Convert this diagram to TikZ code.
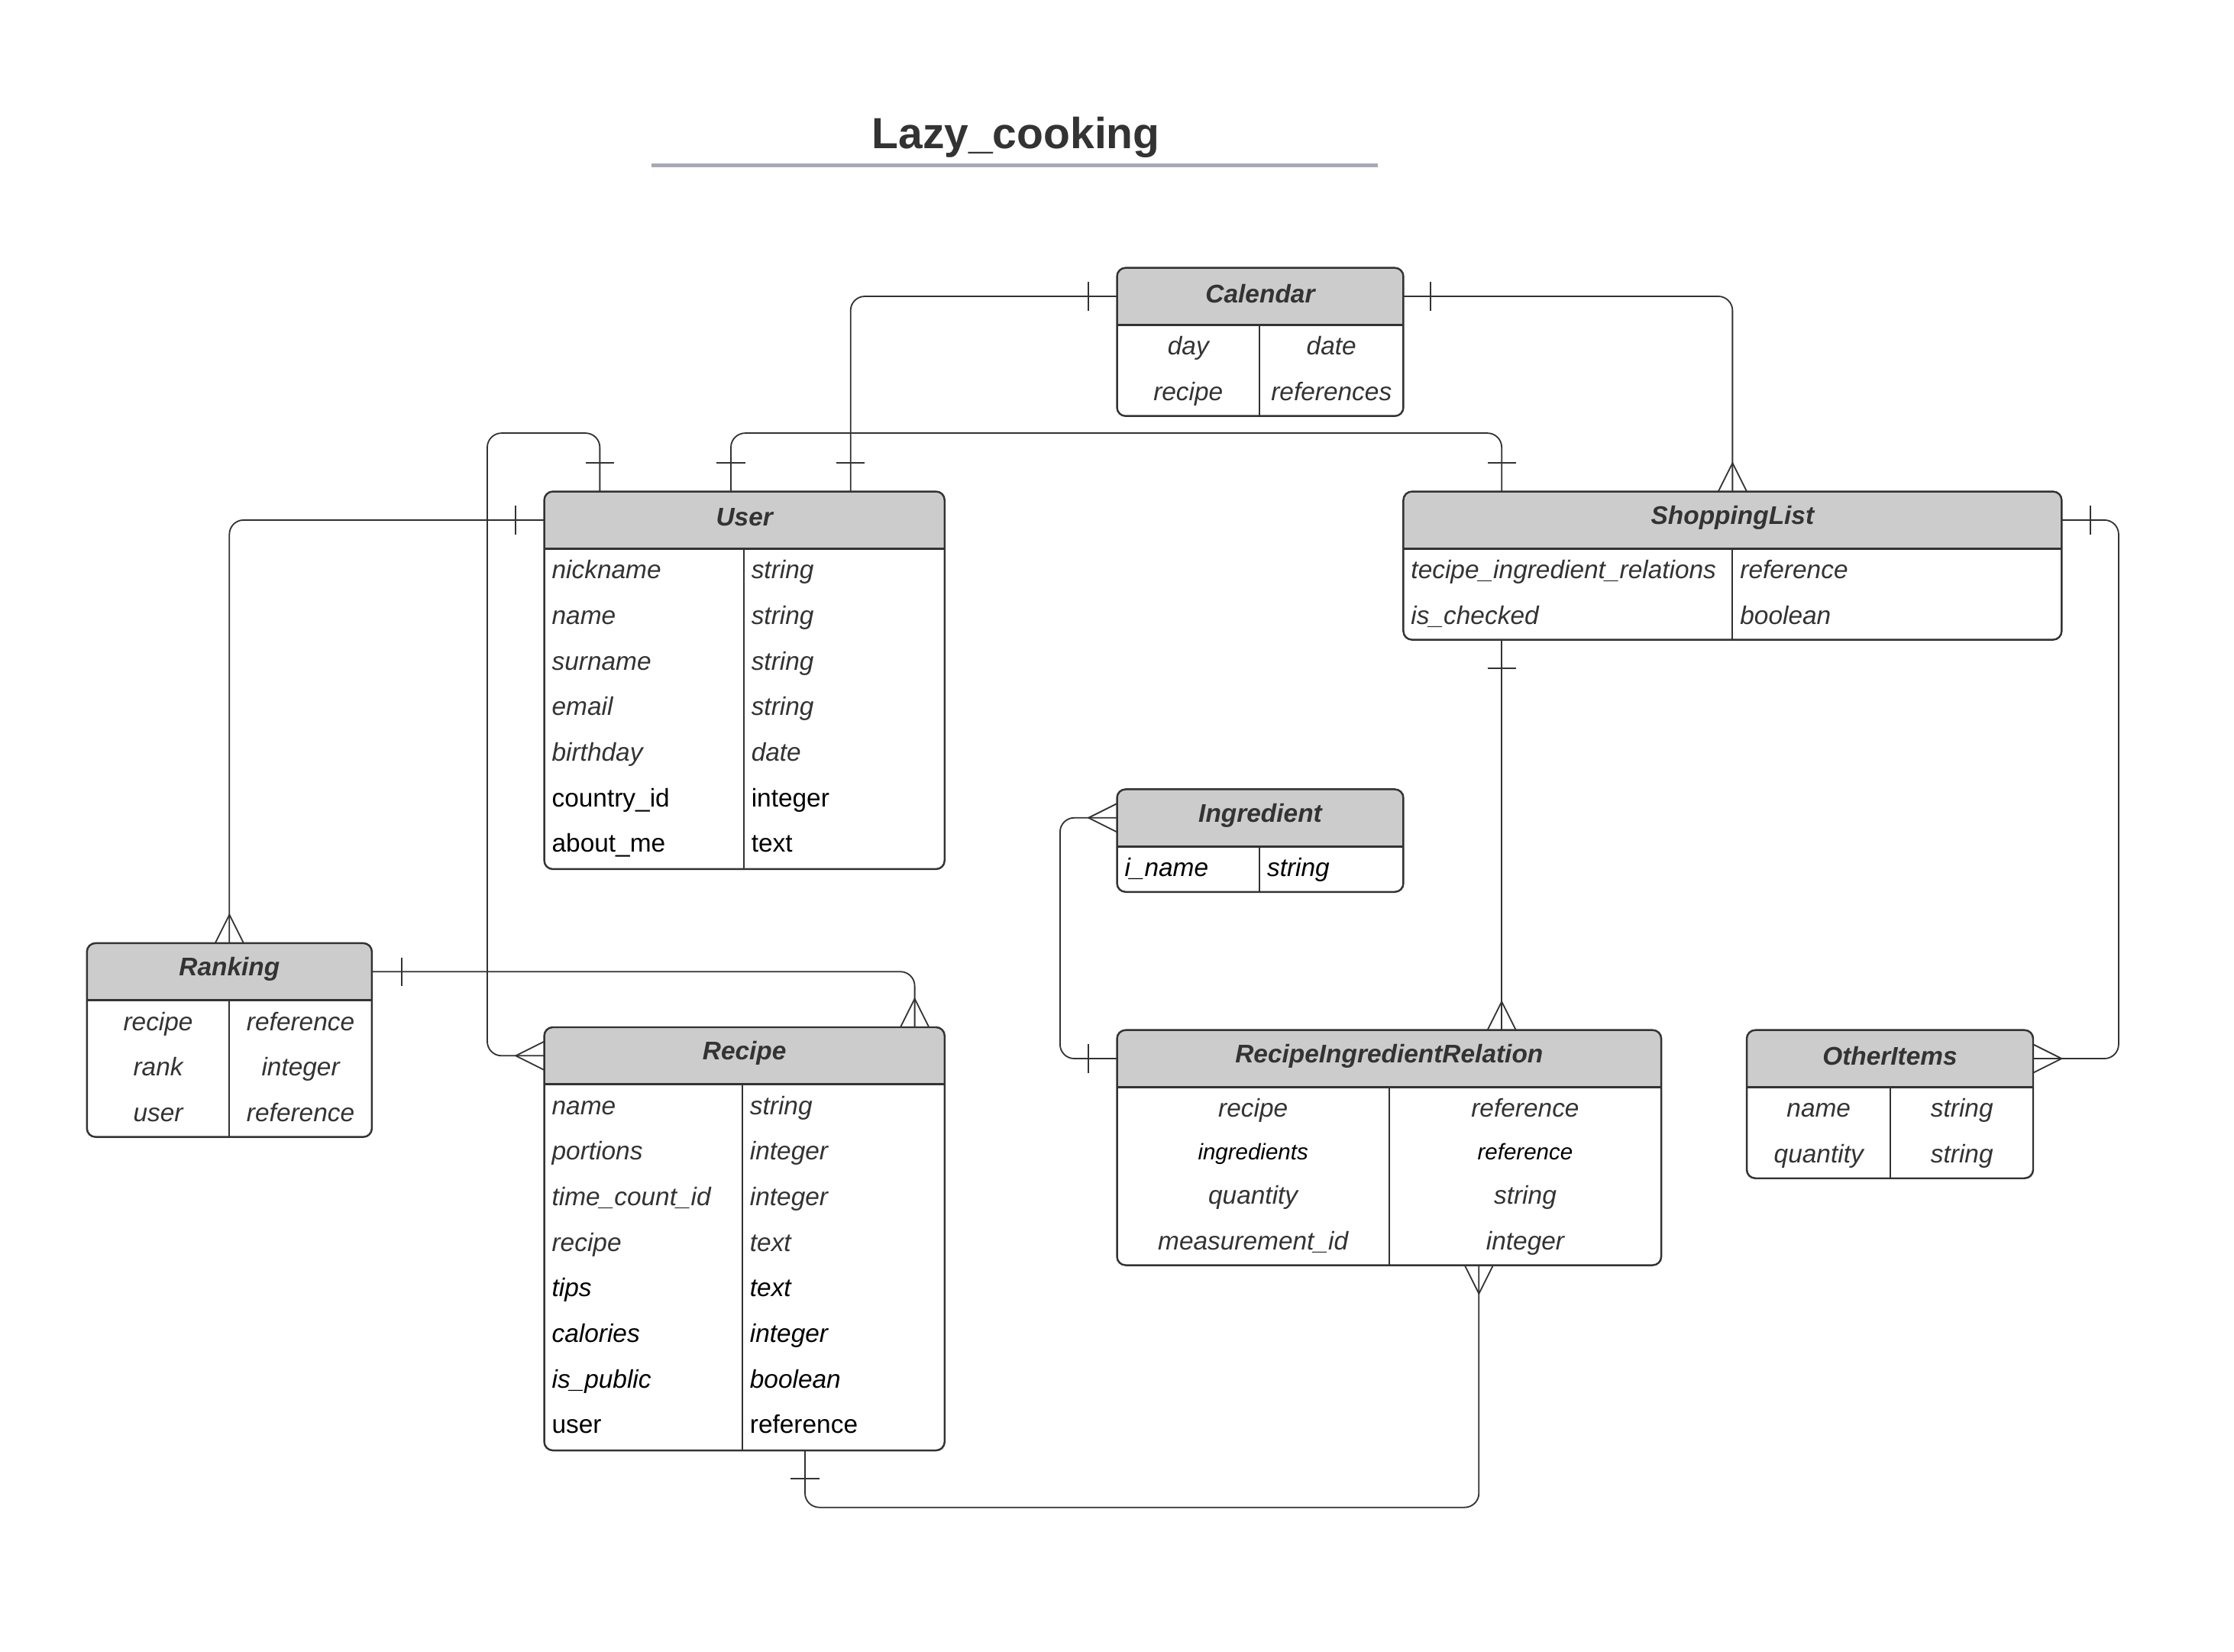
\documentclass[tikz,border=0pt]{standalone}
\usepackage{fontspec}
\setmainfont{Liberation Sans}
\usetikzlibrary{calc,fit}
\definecolor{ink}{HTML}{333333}
\definecolor{hfill}{HTML}{CCCCCC}
\definecolor{ulc}{HTML}{A6AAB6}
\newcommand\fsz{\fontsize{10.2pt}{12pt}\selectfont}
\newcommand\fsm{\fontsize{9pt}{11pt}\selectfont}
\newcommand\erentity[8]{%
  \begin{scope}
    \clip (#2,#3) rectangle (#4,#6);
    \fill[hfill, rounded corners=0.12cm] (#2,#3) rectangle (#4,#5);
  \end{scope}
  \node[ebox, fit={(#2,#3) (#4,#5)}] (#1) {};
  \node[fit={(#2,#3) (#4,#6)}, inner sep=0pt, outer sep=0pt] (#1h) {};
  \node[htitle] (#1t) at (#1h.center) {#8};
  \draw[hline] (#2,#6) -- (#4,#6);
  \draw[vline] (#7,#6) -- (#7,#5);
}
\newcommand\vbarx[3]{\draw[conn] ($(#1)+(#2,#3)+(0,-10)$) -- ($(#1)+(#2,#3)+(0,10)$);}
\newcommand\hbarx[3]{\draw[conn] ($(#1)+(#2,#3)+(-10,0)$) -- ($(#1)+(#2,#3)+(10,0)$);}
\newcommand\crowx[5]{\draw[conn, sharp corners] ($(#1)+(#4,#5)$) -- ($(#1)+(#2,#3)$) -- ($(#1)-(#4,#5)$);}
\begin{document}
\begin{tikzpicture}[x=0.02cm,y=-0.02cm,
  ebox/.style={draw=ink, line width=0.75pt, rounded corners=0.12cm, inner sep=0pt, outer sep=0pt},
  hline/.style={draw=ink, line width=0.9pt},
  vline/.style={draw=ink, line width=0.6pt},
  htitle/.style={font=\fsz\bfseries\itshape, text=ink, inner sep=0pt, yshift=0.035cm},
  conn/.style={draw=ink, line width=0.55pt, rounded corners=0.2cm},
  fbase/.style={inner sep=0pt, text height=0.75em, text depth=0.05em},
  gi/.style={fbase, font=\fsz\itshape, text=ink},
  bi/.style={fbase, font=\fsz\itshape, text=black},
  bu/.style={fbase, font=\fsz, text=black},
  si/.style={fbase, font=\fsm\itshape, text=black},
  L/.style={anchor=west},
]
\path[fill=white] (0,0) rectangle (1568,1159);
\useasboundingbox (0,0) rectangle (1568,1159);

% title
\node[font=\fontsize{17.4pt}{20pt}\selectfont\bfseries, text=ink, anchor=base, inner sep=0pt] (title) at (713,104) {Lazy\_cooking};
\draw[ulc, line width=0.05cm] (457,116) -- (967,116);

% entities
\erentity{cal}{784}{188}{985}{292}{228}{884}{Calendar}
\erentity{user}{382}{345}{663}{610}{385}{522}{User}
\erentity{shop}{985}{345}{1447}{449}{385}{1216}{ShoppingList}
\erentity{ing}{784}{554}{985}{626}{594}{884}{Ingredient}
\erentity{rank}{61}{662}{261}{798}{702}{161}{Ranking}
\erentity{rec}{382}{721}{663}{1018}{761}{521}{Recipe}
\erentity{rir}{784}{723}{1166}{888}{763}{975}{RecipeIngredientRelation}
\erentity{oth}{1226}{723}{1427}{827}{763}{1327}{OtherItems}

% Calendar fields
\node[gi] (c1a) at (834,243) {day};
\node[gi] (c1b) at (934.5,243) {date};
\node[gi] (c2a) at (834,275) {recipe};
\node[gi] (c2b) at (934.5,275) {references};

% User fields
\node[gi,L] (u1a) at (387,400) {nickname};  \node[gi,L] (u1b) at (527,400) {string};
\node[gi,L] (u2a) at (387,432) {name};      \node[gi,L] (u2b) at (527,432) {string};
\node[gi,L] (u3a) at (387,464) {surname};   \node[gi,L] (u3b) at (527,464) {string};
\node[gi,L] (u4a) at (387,496) {email};     \node[gi,L] (u4b) at (527,496) {string};
\node[gi,L] (u5a) at (387,528) {birthday};  \node[gi,L] (u5b) at (527,528) {date};
\node[bu,L] (u6a) at (387,560) {country\_id}; \node[bu,L] (u6b) at (527,560) {integer};
\node[bu,L] (u7a) at (387,592) {about\_me};   \node[bu,L] (u7b) at (527,592) {text};

% ShoppingList fields
\node[gi,L] (s1a) at (990,400) {tecipe\_ingredient\_relations}; \node[gi,L] (s1b) at (1221,400) {reference};
\node[gi,L] (s2a) at (990,432) {is\_checked}; \node[gi,L] (s2b) at (1221,432) {boolean};

% Ingredient fields
\node[bi,L] (i1a) at (789,609) {i\_name}; \node[bi,L] (i1b) at (889,609) {string};

% Ranking fields
\node[gi] (r1a) at (111,717) {recipe}; \node[gi] (r1b) at (211,717) {reference};
\node[gi] (r2a) at (111,749) {rank};   \node[gi] (r2b) at (211,749) {integer};
\node[gi] (r3a) at (111,781) {user};   \node[gi] (r3b) at (211,781) {reference};

% Recipe fields
\node[gi,L] (e1a) at (387,776) {name};          \node[gi,L] (e1b) at (526,776) {string};
\node[gi,L] (e2a) at (387,808) {portions};      \node[gi,L] (e2b) at (526,808) {integer};
\node[gi,L] (e3a) at (387,840) {time\_count\_id}; \node[gi,L] (e3b) at (526,840) {integer};
\node[gi,L] (e4a) at (387,872) {recipe};        \node[gi,L] (e4b) at (526,872) {text};
\node[bi,L] (e5a) at (387,904) {tips};          \node[bi,L] (e5b) at (526,904) {text};
\node[bi,L] (e6a) at (387,936) {calories};      \node[bi,L] (e6b) at (526,936) {integer};
\node[bi,L] (e7a) at (387,968) {is\_public};    \node[bi,L] (e7b) at (526,968) {boolean};
\node[bu,L] (e8a) at (387,1000) {user};         \node[bu,L] (e8b) at (526,1000) {reference};

% RecipeIngredientRelation fields
\node[gi] (q1a) at (879.5,778) {recipe};          \node[gi] (q1b) at (1070.5,778) {reference};
\node[si] (q2a) at (879.5,808) {ingredients};     \node[si] (q2b) at (1070.5,808) {reference};
\node[gi] (q3a) at (879.5,839) {quantity};        \node[gi] (q3b) at (1070.5,839) {string};
\node[gi] (q4a) at (879.5,871) {measurement\_id}; \node[gi] (q4b) at (1070.5,871) {integer};

% OtherItems fields
\node[gi] (o1a) at (1276.5,778) {name};     \node[gi] (o1b) at (1377,778) {string};
\node[gi] (o2a) at (1276.5,810) {quantity}; \node[gi] (o2b) at (1377,810) {string};

% 1 Calendar - User
\coordinate (p1) at ($(userh.north west)+(215,0)$);
\draw[conn] (calh.west) -| (p1);
\vbarx{calh.west}{-20}{0}
\hbarx{p1}{0}{-20}

% 2 Calendar - ShoppingList
\draw[conn] (calh.east) -| (shoph.north);
\vbarx{calh.east}{19}{0}
\crowx{shoph.north}{0}{-20}{10}{0}

% 3 User - ShoppingList
\coordinate (p3a) at ($(userh.north west)+(131,0)$);
\coordinate (p3b) at ($(shoph.north west)+(69,0)$);
\draw[conn] (p3a) -- ++(0,-41) -| (p3b);
\hbarx{p3a}{0}{-20}
\hbarx{p3b}{0}{-20}

% 4 User - Recipe
\coordinate (p4a) at ($(userh.north west)+(39,0)$);
\draw[conn] (p4a) -- ++(0,-41) -- ++(-79,0) |- (rech.west);
\hbarx{p4a}{0}{-20}
\crowx{rech.west}{-20}{0}{0}{10}

% 5 User - Ranking
\draw[conn] (userh.west) -| (rankh.north);
\vbarx{userh.west}{-20}{0}
\crowx{rankh.north}{0}{-20}{10}{0}

% 6 Ranking - Recipe
\coordinate (p6) at ($(rech.north west)+(260,0)$);
\draw[conn] (rankh.east) -| (p6);
\vbarx{rankh.east}{21}{0}
\crowx{p6}{0}{-20}{10}{0}

% 7 ShoppingList - RecipeIngredientRelation
\coordinate (p7a) at ($(shop.south west)+(69,0)$);
\coordinate (p7b) at (p7a |- rirh.north);
\draw[conn] (p7a) -- (p7b);
\hbarx{p7a}{0}{20}
\crowx{p7b}{0}{-20}{10}{0}

% 8 ShoppingList - OtherItems
\draw[conn] (shoph.east) -- ++(40,0) |- (othh.east);
\vbarx{shoph.east}{20}{0}
\crowx{othh.east}{20}{0}{0}{10}

% 9 Ingredient - RecipeIngredientRelation
\draw[conn] (ingh.west) -- ++(-40,0) |- (rirh.west);
\crowx{ingh.west}{-20}{0}{0}{10}
\vbarx{rirh.west}{-20}{0}

% 10 RecipeIngredientRelation - Recipe
\coordinate (p10a) at ($(rir.south west)+(254,0)$);
\coordinate (p10b) at ($(rec.south west)+(183,0)$);
\draw[conn] (p10a) -- ++(0,170) -| (p10b);
\crowx{p10a}{0}{20}{10}{0}
\hbarx{p10b}{0}{20}
\end{tikzpicture}
\end{document}
